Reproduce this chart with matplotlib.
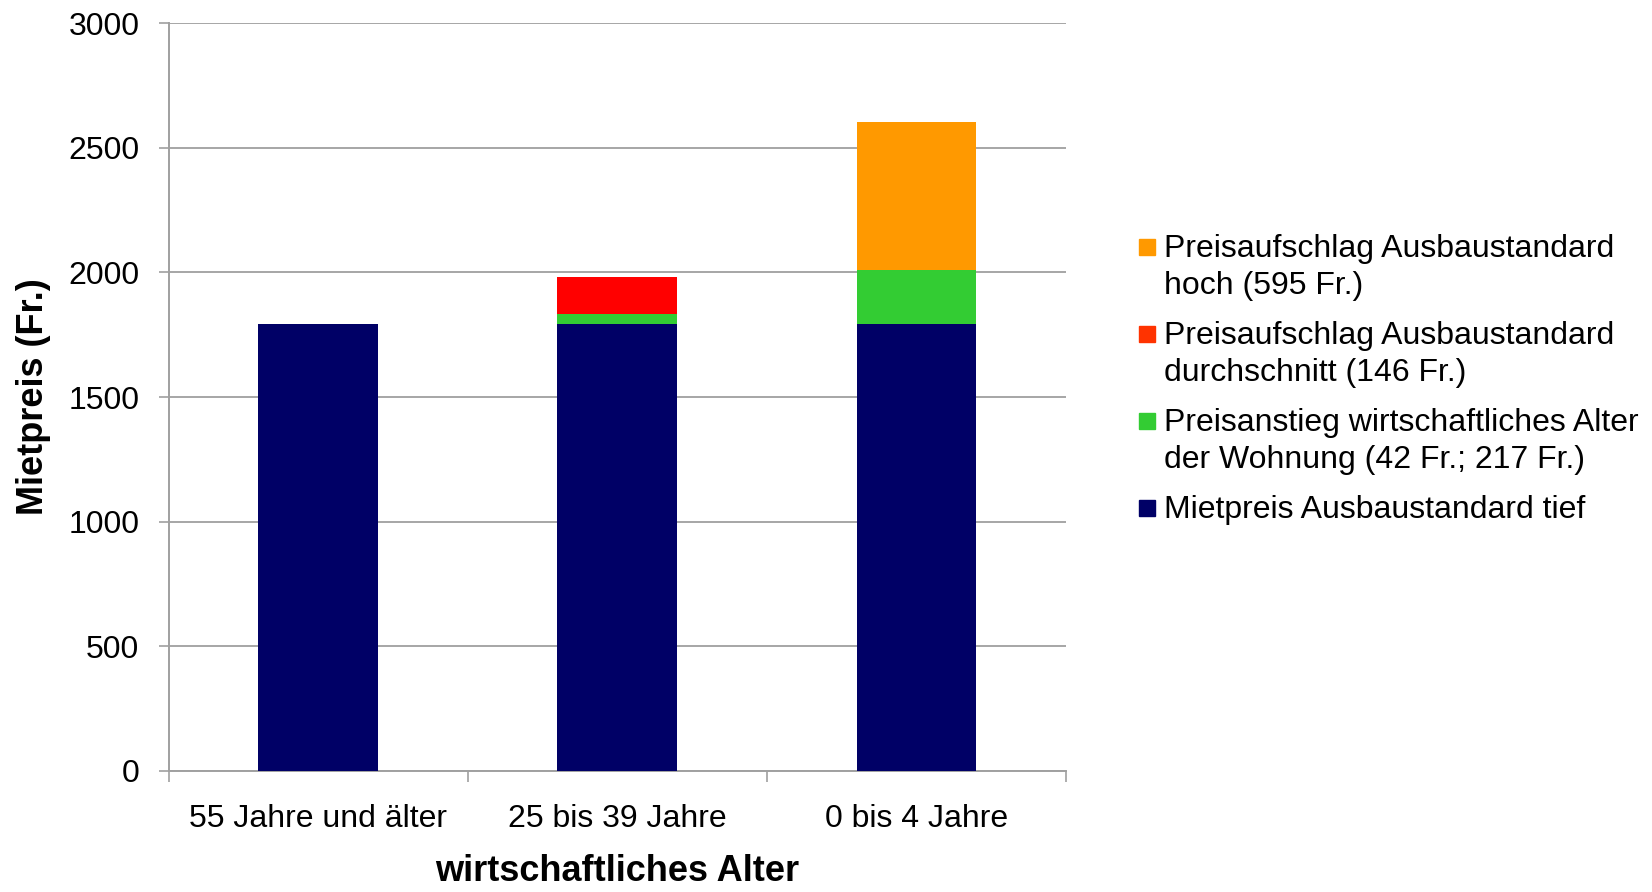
import matplotlib
matplotlib.use("Agg")
import matplotlib.pyplot as plt
import numpy as np
from matplotlib.patches import Rectangle

# Rental price by economic age of the flat, stacked by price component
categories = ["55 Jahre und älter", "25 bis 39 Jahre", "0 bis 4 Jahre"]
base_low = [1792, 1792, 1792]
age_increase = [0, 42, 217]
premium_avg = [0, 146, 0]
premium_high = [0, 0, 595]

series_labels = [
    "Mietpreis Ausbaustandard tief",
    "Preisanstieg wirtschaftliches Alter\nder Wohnung (42 Fr.; 217 Fr.)",
    "Preisaufschlag Ausbaustandard\ndurchschnitt (146 Fr.)",
    "Preisaufschlag Ausbaustandard\nhoch (595 Fr.)",
]
series_colors = ["#000066", "#33CC33", "#FF0000", "#FF9900"]
legend_colors = ["#000066", "#33CC33", "#FF3300", "#FF9900"]

yticks = [0, 500, 1000, 1500, 2000, 2500, 3000]

W, H = 1652, 892
plt.rcParams["font.family"] = ["Liberation Sans", "DejaVu Sans"]

fig = plt.figure(figsize=(W / 100, H / 100), dpi=100)
ax = fig.add_axes([168.6 / W, 1 - 771 / H, (1066 - 168.6) / W, (771 - 23.2) / H])

x = np.arange(len(categories))
bottom = np.zeros(len(categories))
for vals, col in zip([base_low, age_increase, premium_avg, premium_high], series_colors):
    ax.bar(x, vals, width=0.4, bottom=bottom, color=col, zorder=3)
    bottom += np.array(vals)

ax.set_xlim(-0.5, len(categories) - 0.5)
ax.set_ylim(0, 3000)
ax.set_yticks(yticks)
ax.set_yticklabels([str(v) for v in yticks])
ax.grid(axis="y", color="#A6A6A6", linewidth=1.4, zorder=0)

# category boundaries get the tick marks, centres get the labels
ax.set_xticks(np.arange(len(categories) + 1) - 0.5)
ax.set_xticklabels([])
ax.set_xticks(x, minor=True)
ax.set_xticklabels(categories, minor=True)
ax.tick_params(axis="x", which="major", length=8, width=1.2, color="#A0A0A0")
ax.tick_params(axis="x", which="minor", length=0, pad=24, labelsize=23)
ax.tick_params(axis="y", length=7, width=1.2, color="#A0A0A0", pad=14, labelsize=23)

for side in ["top", "right"]:
    ax.spines[side].set_visible(False)
for side in ["left", "bottom"]:
    ax.spines[side].set_color("#A0A0A0")
    ax.spines[side].set_linewidth(1.4)

ax.set_ylabel("Mietpreis (Fr.)", fontsize=26, fontweight="bold")
ax.yaxis.label.set_va("center")
ax.yaxis.set_label_coords(-0.150, 0.5)
ax.set_xlabel("wirtschaftliches Alter", fontsize=26, fontweight="bold")
ax.xaxis.label.set_va("center")
ax.xaxis.set_label_coords(0.5, -0.135)

# legend, top entry is the last stacked series
baselines = [257, 344, 431, 518]
line_step = 37
for i, idx in enumerate(range(len(series_labels) - 1, -1, -1)):
    yb = baselines[i]
    fig.add_artist(Rectangle((1139 / W, 1 - (yb - 2) / H), 16 / W, 16 / H,
                             transform=fig.transFigure, color=legend_colors[idx]))
    for j, line in enumerate(series_labels[idx].split("\n")):
        fig.text(1164 / W, 1 - (yb + j * line_step) / H, line, fontsize=23,
                 va="baseline", ha="left")

fig.savefig("out.png", dpi=100)
